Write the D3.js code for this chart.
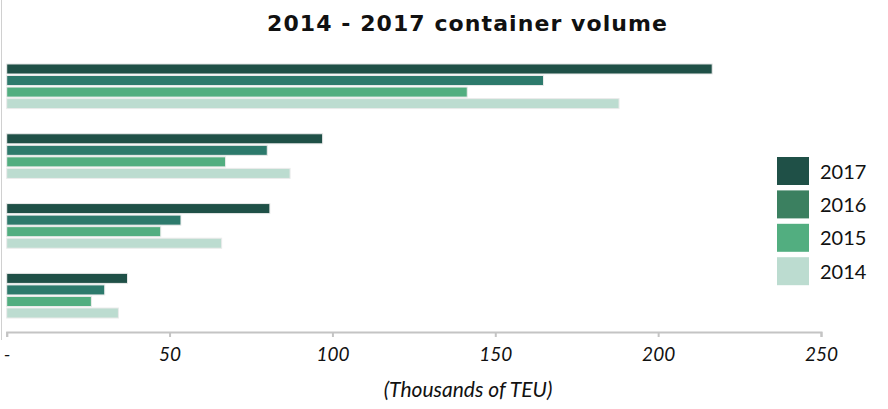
<!DOCTYPE html>
<html>
<head>
<meta charset="utf-8">
<script src="https://cdn.jsdelivr.net/npm/d3@7"></script>
<style>
  body { margin: 0; background: #fff; }
  text { font-family: Lato, "Open Sans", sans-serif; fill: #111; }
</style>
</head>
<body>
<div id="chart"></div>
<script>
// row groups (no labels shown on the chart)
const categories = ['g1', 'g2', 'g3', 'g4'];
const years = ['2017', '2016', '2015', '2014'];

// thousands of TEU
const v2017 = [216.6, 97, 80.8, 37.1];
const v2016 = [164.8, 80, 53.5, 30.1];
const v2015 = [141.4, 67.2, 47.3, 26];
const v2014 = [188, 87, 66, 34.3];

const xTicks = [0, 50, 100, 150, 200, 250];

const series = { '2017': v2017, '2016': v2016, '2015': v2015, '2014': v2014 };
const barColor = { '2017': '#1f5047', '2016': '#2d7a6c', '2015': '#52ae80', '2014': '#bcdcd0' };
const keyColor = { '2017': '#1f5047', '2016': '#3b8060', '2015': '#52ae80', '2014': '#bcdcd0' };

const width = 888, height = 409;

const svg = d3.select('#chart').append('svg')
  .attr('width', width)
  .attr('height', height);

const x = d3.scaleLinear().domain([0, 250]).range([6.7, 821]);
const y = d3.scaleBand().domain(categories).range([50, 332])
  .paddingInner(0.36).paddingOuter(0.2);
const yInner = d3.scaleBand().domain(years).range([0, y.bandwidth()])
  .paddingInner(0.13);

// title
svg.append('text')
  .attr('x', 467)
  .attr('y', 31)
  .attr('text-anchor', 'middle')
  .style('font-family', '"DejaVu Sans", sans-serif')
  .style('font-size', '22px')
  .style('font-weight', 'bold')
  .attr('textLength', 400)
  .attr('lengthAdjust', 'spacing')
  .text('2014 - 2017 container volume');

// left edge line
svg.append('line')
  .attr('x1', 1.5).attr('x2', 1.5)
  .attr('y1', 0).attr('y2', 340)
  .attr('stroke', '#d0d0d0');

// bars
const groups = svg.selectAll('g.cat')
  .data(categories)
  .enter()
  .append('g')
  .attr('class', 'cat')
  .attr('transform', d => `translate(0,${y(d)})`);

groups.selectAll('rect')
  .data((d, i) => years.map(yr => ({ year: yr, value: series[yr][i] })))
  .enter()
  .append('rect')
  .attr('x', x(0))
  .attr('y', d => yInner(d.year))
  .attr('width', d => x(d.value) - x(0))
  .attr('height', yInner.bandwidth())
  .attr('fill', d => barColor[d.year])
  .attr('stroke', '#ebebeb')
  .attr('stroke-width', 1);

// x axis
const xAxis = d3.axisBottom(x)
  .tickValues(xTicks)
  .tickSize(5)
  .tickSizeOuter(5)
  .tickPadding(11)
  .tickFormat(d => d === 0 ? '-' : d);

const ax = svg.append('g')
  .attr('transform', 'translate(0,332)')
  .call(xAxis);
ax.select('.domain').attr('stroke', '#c4c4c4').attr('stroke-width', 2);
ax.selectAll('.tick line').attr('stroke', '#c4c4c4').attr('stroke-width', 2);
ax.selectAll('.tick text')
  .style('font-family', 'Lato, sans-serif')
  .style('font-size', '19px')
  .style('font-style', 'italic')
  .attr('fill', '#111');

// axis title
svg.append('text')
  .attr('x', 468)
  .attr('y', 397)
  .attr('text-anchor', 'middle')
  .style('font-size', '21px')
  .style('font-style', 'italic')
  .text('(Thousands of TEU)');

// legend
const legend = svg.append('g').attr('transform', 'translate(777,157)');
const item = legend.selectAll('g')
  .data(years)
  .enter()
  .append('g')
  .attr('transform', (d, i) => `translate(0,${i * 33.4})`);
item.append('rect')
  .attr('width', 32)
  .attr('height', 28)
  .attr('fill', d => keyColor[d]);
item.append('text')
  .attr('x', 43)
  .attr('y', 21.5)
  .style('font-size', '20px')
  .text(d => d);
</script>
</body>
</html>
